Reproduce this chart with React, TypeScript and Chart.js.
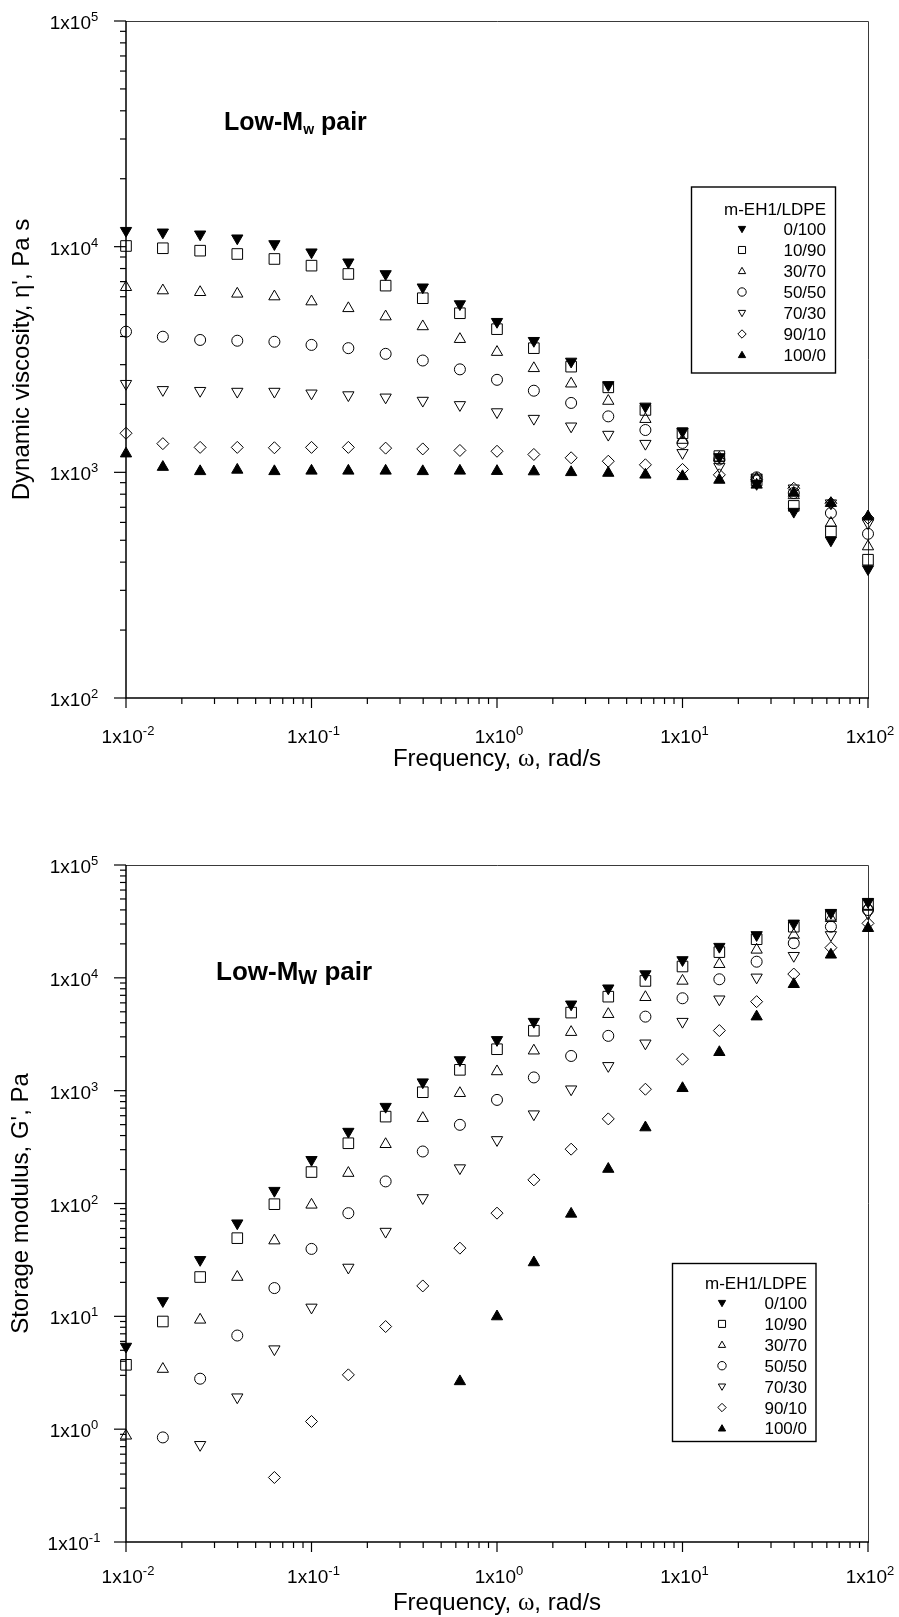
import React, { useEffect, useRef } from 'react';
import { Chart, registerables } from 'chart.js';
import { drawPoint } from 'chart.js/helpers';

Chart.register(...registerables);

// Angular frequency (rad/s), five points per decade
const frequency = [
  0.01, 0.0158, 0.0251, 0.0398, 0.0631, 0.1, 0.158, 0.251, 0.398, 0.631,
  1, 1.58, 2.51, 3.98, 6.31, 10, 15.8, 25.1, 39.8, 63.1, 100,
];

// m-EH1/LDPE blend ratios
const blendLabels = ['0/100', '10/90', '30/70', '50/50', '70/30', '90/10', '100/0'];
const legendTitle = 'm-EH1/LDPE';

// Dynamic viscosity eta' (Pa s)
const eta_0_100 = [11770, 11580, 11350, 10900, 10280, 9450, 8530, 7570, 6610, 5570, 4650, 3830, 3100, 2440, 1960, 1520, 1170, 890, 670, 500, 373];
const eta_10_90 = [10070, 9840, 9600, 9280, 8820, 8240, 7570, 6720, 5910, 5070, 4310, 3550, 2940, 2380, 1890, 1490, 1180, 920, 710, 547, 410];
const eta_30_70 = [6610, 6390, 6280, 6180, 6010, 5710, 5330, 4900, 4430, 3890, 3410, 2890, 2470, 2070, 1720, 1390, 1160, 940, 790, 596, 469];
const eta_50_50 = [4200, 3990, 3860, 3830, 3790, 3670, 3550, 3350, 3130, 2860, 2570, 2300, 2030, 1770, 1540, 1350, 1140, 950, 810, 660, 534];
const eta_70_30 = [2470, 2320, 2300, 2280, 2280, 2240, 2200, 2150, 2080, 1990, 1850, 1730, 1600, 1470, 1340, 1220, 1060, 950, 850, 730, 596];
const eta_90_10 = [1490, 1340, 1290, 1290, 1285, 1290, 1290, 1280, 1270, 1250, 1240, 1200, 1160, 1120, 1080, 1030, 975, 930, 850, 730, 627];
const eta_100_0 = [1210, 1055, 1010, 1025, 1010, 1015, 1015, 1015, 1010, 1015, 1012, 1008, 1000, 993, 975, 960, 925, 880, 810, 730, 637];

// Storage modulus G' (Pa)
const gp_0_100 = [5.4, 13.7, 31.7, 66.9, 130, 244, 434, 722, 1190, 1870, 2820, 4090, 5830, 8090, 10800, 14400, 18900, 24000, 30400, 37800, 47300];
const gp_10_90 = [3.72, 9.0, 22.3, 49.3, 98.6, 190, 342, 589, 969, 1530, 2330, 3400, 4920, 6810, 9390, 12600, 16900, 22000, 28400, 36100, 45100];
const gp_30_70 = [0.874, 3.41, 9.31, 22.3, 46.9, 97.3, 186, 335, 570, 949, 1480, 2260, 3300, 4760, 6730, 9390, 13200, 17700, 24000, 33700, 42700];
const gp_50_50 = [null, 0.845, 2.8, 6.76, 17.8, 39.6, 82.1, 157, 289, 498, 828, 1310, 2030, 3060, 4530, 6590, 9710, 13900, 20300, 28400, 39900];
const gp_70_30 = [null, null, 0.727, 1.92, 5.12, 12.0, 27.1, 56.4, 112, 206, 366, 619, 1030, 1660, 2630, 4090, 6460, 10100, 15700, 24000, 37300];
const gp_90_10 = [null, null, null, null, 0.373, 1.17, 3.03, 8.12, 18.6, 40.2, 82.1, 162, 303, 562, 1030, 1900, 3410, 6150, 10800, 18500, 30400];
const gp_100_0 = [null, null, null, null, null, null, null, null, null, 2.65, 9.96, 30.0, 80.9, 202, 471, 1050, 2190, 4530, 8770, 16000, 27500];

// Decade exponents used for the "1x10^n" tick labels
const xTickExponents = [-2, -1, 0, 1, 2];
const etaTickExponents = [2, 3, 4, 5];
const gTickExponents = [-1, 0, 1, 2, 3, 4, 5];

const FONT = '"Liberation Sans", Arial, Helvetica, sans-serif';
const SERIF = '"Liberation Serif", "Times New Roman", serif';

const MARKERS = [
  { style: 'triangle', rotation: 180, filled: true, radius: 6.5 },
  { style: 'rect', rotation: 0, filled: false, radius: 7.5 },
  { style: 'triangle', rotation: 0, filled: false, radius: 6.5 },
  { style: 'circle', rotation: 0, filled: false, radius: 5.5 },
  { style: 'triangle', rotation: 180, filled: false, radius: 6.5 },
  { style: 'rectRot', rotation: 0, filled: false, radius: 6 },
  { style: 'triangle', rotation: 0, filled: true, radius: 6.5 },
];

type Run = { text: string; font: string; dy?: number };

function runsWidth(ctx: CanvasRenderingContext2D, runs: Run[]) {
  let w = 0;
  for (const r of runs) {
    ctx.font = r.font;
    w += ctx.measureText(r.text).width;
  }
  return w;
}

function drawRuns(ctx: CanvasRenderingContext2D, runs: Run[], x: number, y: number, align: 'left' | 'center' | 'right') {
  const w = runsWidth(ctx, runs);
  let cx = align === 'center' ? x - w / 2 : align === 'right' ? x - w : x;
  ctx.textAlign = 'left';
  ctx.textBaseline = 'alphabetic';
  for (const r of runs) {
    ctx.font = r.font;
    ctx.fillText(r.text, cx, y + (r.dy || 0));
    cx += ctx.measureText(r.text).width;
  }
}

function powerLabel(e: number): Run[] {
  return [
    { text: '1x10', font: `19px ${FONT}` },
    { text: String(e), font: `13px ${FONT}`, dy: -8 },
  ];
}

interface LegendBox {
  left: number; top: number; right: number; bottom: number;
  titleY: number; firstRowY: number; rowGap: number; symbolX: number; labelRight: number;
}

interface PanelSpec {
  height: number;
  padding: { left: number; top: number; right: number; bottom: number };
  yMin: number;
  yMax: number;
  yExps: number[];
  series: (number | null)[][];
  yTitle: string;
  yTitleX: number;
  xLabelOffset: number;
  xTitleOffset: number;
  note: Run[];
  noteX: number;
  noteY: number;
  legend: LegendBox;
}

function makeDatasets(series: (number | null)[][]) {
  return series.map((vals, k) => ({
    label: blendLabels[k],
    data: frequency
      .map((x, i) => ({ x, y: vals[i] }))
      .filter((p) => p.y !== null) as { x: number; y: number }[],
    pointStyle: MARKERS[k].style,
    pointRotation: MARKERS[k].rotation,
    pointRadius: MARKERS[k].radius,
    pointHoverRadius: MARKERS[k].radius,
    pointBackgroundColor: MARKERS[k].filled ? '#000000' : 'rgba(0,0,0,0)',
    pointBorderColor: '#000000',
    pointBorderWidth: 1,
    showLine: false,
    clip: false as const,
  }));
}

function axesPlugin(spec: PanelSpec) {
  return {
    id: 'logAxes',
    beforeDatasetsDraw(chart: any) {
      const ctx: CanvasRenderingContext2D = chart.ctx;
      const { left, right, top, bottom } = chart.chartArea;
      const xs = chart.scales.x;
      const ys = chart.scales.y;
      ctx.save();
      ctx.lineCap = 'butt';

      // frame: heavier left/bottom axes, lighter top/right border
      ctx.strokeStyle = '#3a3a3a';
      ctx.lineWidth = 1;
      ctx.beginPath();
      ctx.moveTo(left, top + 0.5);
      ctx.lineTo(right + 0.5, top + 0.5);
      ctx.lineTo(right + 0.5, bottom);
      ctx.stroke();

      ctx.strokeStyle = '#000000';
      ctx.lineWidth = 1.5;
      ctx.beginPath();
      ctx.moveTo(left, top);
      ctx.lineTo(left, bottom);
      ctx.lineTo(right + 1, bottom);
      ctx.stroke();

      // y ticks
      ctx.lineWidth = 1.2;
      const yLo = Math.min(...spec.yExps);
      const yHi = Math.max(...spec.yExps);
      for (let e = yLo; e <= yHi; e++) {
        const py = ys.getPixelForValue(Math.pow(10, e));
        ctx.beginPath();
        ctx.moveTo(left - 12, py);
        ctx.lineTo(left, py);
        ctx.stroke();
        if (e < yHi) {
          for (let m = 2; m <= 9; m++) {
            const pm = ys.getPixelForValue(m * Math.pow(10, e));
            ctx.beginPath();
            ctx.moveTo(left - 6, pm);
            ctx.lineTo(left, pm);
            ctx.stroke();
          }
        }
      }
      // x ticks
      const xLo = Math.min(...xTickExponents);
      const xHi = Math.max(...xTickExponents);
      for (let e = xLo; e <= xHi; e++) {
        const px = xs.getPixelForValue(Math.pow(10, e));
        ctx.beginPath();
        ctx.moveTo(px, bottom);
        ctx.lineTo(px, bottom + 10);
        ctx.stroke();
        if (e < xHi) {
          for (let m = 2; m <= 9; m++) {
            const pm = xs.getPixelForValue(m * Math.pow(10, e));
            ctx.beginPath();
            ctx.moveTo(pm, bottom);
            ctx.lineTo(pm, bottom + 6);
            ctx.stroke();
          }
        }
      }

      // tick labels
      ctx.fillStyle = '#000000';
      for (const e of spec.yExps) {
        const py = ys.getPixelForValue(Math.pow(10, e));
        drawRuns(ctx, powerLabel(e), 74, py + 8, 'center');
      }
      for (const e of xTickExponents) {
        const px = xs.getPixelForValue(Math.pow(10, e));
        drawRuns(ctx, powerLabel(e), px + 2, bottom + spec.xLabelOffset, 'center');
      }

      // axis titles
      drawRuns(
        ctx,
        [
          { text: 'Frequency, ', font: `24px ${FONT}` },
          { text: 'ω', font: `25px ${SERIF}` },
          { text: ', rad/s', font: `24px ${FONT}` },
        ],
        (left + right) / 2,
        bottom + spec.xTitleOffset,
        'center'
      );
      ctx.save();
      ctx.translate(spec.yTitleX, (top + bottom) / 2);
      ctx.rotate(-Math.PI / 2);
      drawRuns(ctx, [{ text: spec.yTitle, font: `24px ${FONT}` }], 0, 0, 'center');
      ctx.restore();

      ctx.restore();
    },
    afterDatasetsDraw(chart: any) {
      const ctx: CanvasRenderingContext2D = chart.ctx;
      const lg = spec.legend;
      ctx.save();
      // plot annotation
      ctx.fillStyle = '#000000';
      drawRuns(ctx, spec.note, spec.noteX, spec.noteY, 'left');

      // legend box
      ctx.strokeStyle = '#000000';
      ctx.lineWidth = 1.4;
      ctx.fillStyle = '#ffffff';
      ctx.fillRect(lg.left, lg.top, lg.right - lg.left, lg.bottom - lg.top);
      ctx.strokeRect(lg.left, lg.top, lg.right - lg.left, lg.bottom - lg.top);
      ctx.fillStyle = '#000000';
      drawRuns(ctx, [{ text: legendTitle, font: `17px ${FONT}` }], lg.labelRight, lg.titleY + 6, 'right');
      chart.data.datasets.forEach((ds: any, k: number) => {
        const y = lg.firstRowY + k * lg.rowGap;
        ctx.save();
        ctx.fillStyle = ds.pointBackgroundColor;
        ctx.strokeStyle = ds.pointBorderColor;
        ctx.lineWidth = 1;
        drawPoint(
          ctx,
          { pointStyle: ds.pointStyle, rotation: ds.pointRotation, radius: ds.pointStyle === 'rect' ? 5 : 4.2, borderWidth: 1 } as any,
          lg.symbolX,
          y + (ds.pointStyle === 'triangle' ? (ds.pointRotation ? -0.5 : 0.5) : 0)
        );
        ctx.restore();
        ctx.fillStyle = '#000000';
        drawRuns(ctx, [{ text: ds.label, font: `17px ${FONT}` }], lg.labelRight, y + 6, 'right');
      });
      ctx.restore();
    },
  };
}

const topPanel: PanelSpec = {
  height: 800,
  padding: { left: 126, top: 21, right: 31, bottom: 102 },
  yMin: 100,
  yMax: 100000,
  yExps: etaTickExponents,
  series: [eta_0_100, eta_10_90, eta_30_70, eta_50_50, eta_70_30, eta_90_10, eta_100_0],
  yTitle: "Dynamic viscosity, η', Pa s",
  yTitleX: 29,
  xLabelOffset: 45,
  xTitleOffset: 68,
  note: [
    { text: 'Low-M', font: `bold 25px ${FONT}` },
    { text: 'w', font: `bold 14px ${FONT}`, dy: 4 },
    { text: ' pair', font: `bold 25px ${FONT}` },
  ],
  noteX: 224,
  noteY: 130,
  legend: {
    left: 691.5, top: 187, right: 835.5, bottom: 373,
    titleY: 209, firstRowY: 229, rowGap: 21, symbolX: 742, labelRight: 826,
  },
};

const bottomPanel: PanelSpec = {
  height: 817,
  padding: { left: 126, top: 65, right: 31, bottom: 75 },
  yMin: 0.1,
  yMax: 100000,
  yExps: gTickExponents,
  series: [gp_0_100, gp_10_90, gp_30_70, gp_50_50, gp_70_30, gp_90_10, gp_100_0],
  yTitle: "Storage modulus, G', Pa",
  yTitleX: 28,
  xLabelOffset: 41,
  xTitleOffset: 68,
  note: [
    { text: 'Low-M', font: `bold 26px ${FONT}` },
    { text: 'W', font: `bold 20px ${FONT}`, dy: 4 },
    { text: ' pair', font: `bold 26px ${FONT}` },
  ],
  noteX: 216,
  noteY: 180,
  legend: {
    left: 672.5, top: 463.5, right: 816, bottom: 641.5,
    titleY: 483, firstRowY: 503, rowGap: 20.9, symbolX: 722, labelRight: 807,
  },
};

function Panel({ spec }: { spec: PanelSpec }) {
  const ref = useRef<HTMLCanvasElement>(null);
  useEffect(() => {
    if (!ref.current) return;
    const chart = new Chart(ref.current, {
      type: 'scatter',
      data: { datasets: makeDatasets(spec.series) as any },
      options: {
        animation: false,
        responsive: false,
        devicePixelRatio: 1,
        layout: { padding: spec.padding },
        plugins: { legend: { display: false }, tooltip: { enabled: false } },
        events: [],
        scales: {
          x: { type: 'logarithmic', min: 0.01, max: 100, display: false },
          y: { type: 'logarithmic', min: spec.yMin, max: spec.yMax, display: false },
        },
      },
      plugins: [axesPlugin(spec)],
    });
    return () => chart.destroy();
  }, [spec]);
  return (
    <canvas
      ref={ref}
      width={899}
      height={spec.height}
      style={{ display: 'block', width: 899, height: spec.height }}
    />
  );
}

export default function App() {
  return (
    <div
      style={{
        position: 'absolute',
        left: 0,
        top: 0,
        width: 899,
        height: 1617,
        background: '#ffffff',
        overflow: 'hidden',
      }}
    >
      <Panel spec={topPanel} />
      <Panel spec={bottomPanel} />
    </div>
  );
}
